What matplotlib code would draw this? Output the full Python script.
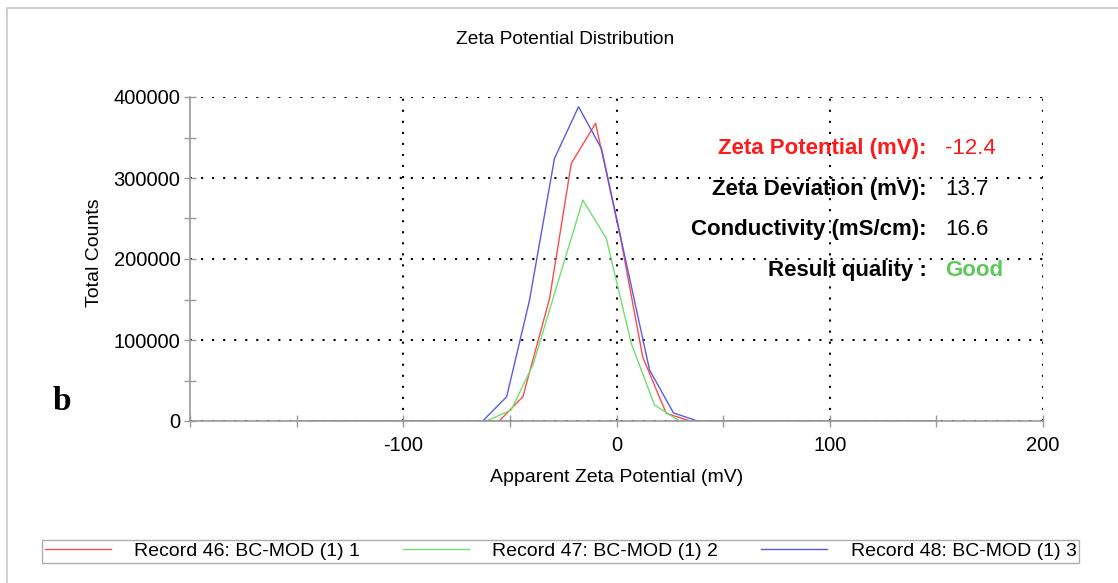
import matplotlib
matplotlib.use("Agg")
import matplotlib.pyplot as plt
from matplotlib.patches import Rectangle

plt.rcParams['font.family'] = ['Liberation Sans', 'DejaVu Sans']
plt.rcParams['axes.unicode_minus'] = False

# Record 46 / 47 / 48
x_46 = [-145, -55, -43.9, -31.4, -21.2, -9.8, 1.9, 12.3, 23.3, 34.5, 150]
y_46 = [0, 0, 30000, 151000, 318000, 367500, 226000, 79000, 9500, 0, 0]

x_47 = [-145, -61, -49.4, -39.2, -27.5, -15.8, -4.8, 6.9, 17.8, 29.5, 150]
y_47 = [0, 0, 13600, 69000, 171000, 272800, 225500, 96000, 19800, 0, 0]

x_48 = [-145, -62.7, -51.5, -40.8, -29.1, -17.8, -7.0, 4.5, 15.5, 26.7, 38, 150]
y_48 = [0, 0, 30000, 149000, 324000, 388000, 336000, 196000, 63000, 10000, 0, 0]

labels = ["Record 46: BC-MOD (1) 1", "Record 47: BC-MOD (1) 2", "Record 48: BC-MOD (1) 3"]
colors = ["#ff4a4a", "#6ee06e", "#5a5ae6"]

info_keys = ["Zeta Potential (mV):", "Zeta Deviation (mV):", "Conductivity (mS/cm):", "Result quality :"]
info_vals = ["-12.4", "13.7", "16.6", "Good"]
info_key_colors = ["#ff1a1a", "black", "black", "black"]
info_val_colors = ["#ff1a1a", "black", "black", "#5cc85c"]

fig = plt.figure(figsize=(11.18, 5.83), dpi=100)
ax = fig.add_axes([190 / 1118, 1 - 421 / 583, 853 / 1118, 324 / 583])

for xs, ys, c, lab in zip([x_46, x_47, x_48], [y_46, y_47, y_48], colors, labels):
    ax.plot(xs, ys, color=c, lw=1.0, label=lab)

ax.set_xlim(-200, 200)
ax.set_ylim(0, 400000)
ax.set_xticks([-100, 0, 100, 200])
ax.set_xticks([-200, -150, -50, 50, 150], minor=True)
ax.set_yticks([0, 100000, 200000, 300000, 400000])
ax.set_yticks([50000, 150000, 250000, 350000], minor=True)

ax.grid(True, which='major', color='black', linestyle=(0, (1, 4.3)), linewidth=1.5)
for s in ['top', 'right']:
    ax.spines[s].set_visible(False)
for s in ['left', 'bottom']:
    ax.spines[s].set_color('#999999')
    ax.spines[s].set_linewidth(1.2)
ax.tick_params(which='both', direction='inout', length=8, color='#999999', width=1)
ax.tick_params(axis='both', labelsize=14.5)
ax.tick_params(axis='x', pad=7)
ax.tick_params(axis='y', pad=3)

ax.set_xlabel("Apparent Zeta Potential (mV)", fontsize=14)
ax.xaxis.set_label_coords(0.5, -0.148)
ax.set_ylabel("Total Counts", fontsize=14)
ax.yaxis.set_label_coords(-0.102, 0.52)

fig.text(565 / 1118, 1 - 40 / 583, "Zeta Potential Distribution", ha='center', va='center', fontsize=13.8)

for i, (k, v) in enumerate(zip(info_keys, info_vals)):
    yy = [0.842, 0.713, 0.59, 0.466][i]
    ax.text(0.864, yy, k, transform=ax.transAxes, ha='right', va='center',
            fontsize=16, fontweight='bold', color=info_key_colors[i])
    ax.text(0.885, yy, v, transform=ax.transAxes, ha='left', va='center',
            fontsize=16, fontweight='bold' if v == "Good" else 'normal', color=info_val_colors[i])

fig.text(62 / 1118, 1 - 402 / 583, "b", ha='center', va='center', fontsize=24,
         fontweight='bold', family=['Liberation Serif', 'DejaVu Serif'])

# outer frame
fig.patches.append(Rectangle((7 / 1118, -0.1), 1.2, 1 - 8 / 583 + 0.1, transform=fig.transFigure,
                             fill=False, edgecolor='#c8c8c8', lw=1.2))

leg = fig.legend(loc='lower left', bbox_to_anchor=(42 / 1118, 1 - 563 / 583),
                 ncol=3, fontsize=14, handlelength=3.4, handletextpad=1.2, columnspacing=2.2,
                 frameon=True, fancybox=False, borderaxespad=0, borderpad=0.15)
leg.get_frame().set_edgecolor('#999999')
leg.get_frame().set_linewidth(1.0)

fig.savefig("out.png", dpi=100)
